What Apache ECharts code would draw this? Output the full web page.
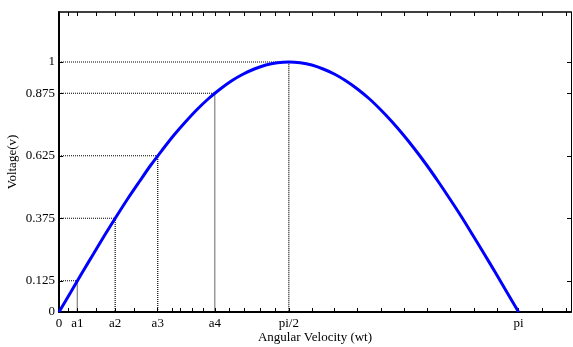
<!DOCTYPE html>
<html>
<head>
<meta charset="utf-8">
<script src="https://cdn.jsdelivr.net/npm/echarts@6/dist/echarts.min.js"></script>
<style>
  html, body { margin: 0; padding: 0; background: #fff; }
  #chart { width: 573px; height: 347px; }
</style>
</head>
<body>
<div id="chart"></div>
<script>
// curve samples
const curveX = [0, 0.079, 0.157, 0.236, 0.314, 0.393, 0.471, 0.550, 0.628, 0.707, 0.785,
  0.864, 0.942, 1.021, 1.100, 1.178, 1.257, 1.335, 1.414, 1.492, 1.571,
  1.649, 1.728, 1.806, 1.885, 1.963, 2.042, 2.121, 2.199, 2.278, 2.356,
  2.435, 2.513, 2.592, 2.670, 2.749, 2.827, 2.906, 2.985, 3.063, 3.142];
const curveY = [0, 0.078, 0.156, 0.233, 0.309, 0.383, 0.454, 0.522, 0.588, 0.649, 0.707,
  0.760, 0.809, 0.853, 0.891, 0.924, 0.951, 0.972, 0.988, 0.997, 1.0,
  0.997, 0.988, 0.972, 0.951, 0.924, 0.891, 0.853, 0.809, 0.760, 0.707,
  0.649, 0.588, 0.522, 0.454, 0.383, 0.309, 0.233, 0.156, 0.078, 0];

// dotted guide lines: level on y, where it meets the curve on x
const guideY = [0.125, 0.375, 0.625, 0.875, 1];
const guideX = [0.125, 0.384, 0.675, 1.065, 1.571];

// axis labels
const xLabelValues = [0, 0.125, 0.384, 0.675, 1.065, 1.571, 3.142];
const xLabelNames = ["0", "a1", "a2", "a3", "a4", "pi/2", "pi"];
const xMinorTicks = [0.062, 0.253, 0.512, 0.772, 0.826, 0.908, 0.984, 1.161, 1.263, 1.373, 1.475,
  1.728, 1.885, 2.042, 2.206, 2.363, 2.520, 2.677, 2.841, 2.998, 3.306, 3.469];
const yLabelValues = [0, 0.125, 0.375, 0.625, 0.875, 1];

const chart = echarts.init(document.getElementById("chart"), null, { renderer: "canvas" });

const font = "Liberation Serif";
const xTicks = xLabelValues.concat(xMinorTicks);

const guideSeries = guideY.map((y, i) => ({
  type: "line",
  silent: true,
  symbol: "none",
  z: 1,
  lineStyle: { color: "#000", width: 1.2, type: [1, 1] },
  data: [[0, y], [guideX[i], y], [guideX[i], 0]],
}));

chart.setOption({
  animation: false,
  backgroundColor: "#fff",
  textStyle: { fontFamily: font },
  grid: {
    left: 59,
    top: 12,
    width: 512,
    height: 300,
    containLabel: false,
    outerBoundsMode: "none",
  },
  xAxis: [
    {
      type: "value",
      min: 0,
      max: 3.5,
      name: "Angular Velocity (wt)",
      nameLocation: "middle",
      nameGap: 19,
      nameMoveOverlap: false,
      nameTextStyle: { color: "#000", fontSize: 13, fontFamily: font },
      axisLine: { onZero: false, lineStyle: { color: "#000", width: 2 } },
      axisTick: {
        inside: true,
        length: 4,
        customValues: xTicks,
        lineStyle: { color: "#000", width: 1 },
      },
      axisLabel: {
        color: "#000",
        fontSize: 13,
        fontFamily: font,
        margin: 5,
        customValues: xLabelValues,
        formatter: (v) => {
          const i = xLabelValues.indexOf(v);
          return i >= 0 ? xLabelNames[i] : "";
        },
      },
      splitLine: { show: false },
    },
    {
      type: "value",
      position: "top",
      min: 0,
      max: 3.5,
      axisLine: { onZero: false, lineStyle: { color: "#000", width: 1.5 } },
      axisTick: {
        inside: true,
        length: 4,
        customValues: xTicks,
        lineStyle: { color: "#000", width: 1 },
      },
      axisLabel: { show: false },
      splitLine: { show: false },
    },
  ],
  yAxis: [
    {
      type: "value",
      min: 0,
      max: 1.2,
      name: "Voltage(v)",
      nameLocation: "middle",
      nameGap: 40,
      nameMoveOverlap: false,
      nameTextStyle: { color: "#000", fontSize: 13, fontFamily: font },
      axisLine: { show: true, onZero: false, lineStyle: { color: "#000", width: 2 } },
      axisTick: {
        show: true,
        inside: true,
        length: 4,
        customValues: yLabelValues,
        lineStyle: { color: "#000", width: 1 },
      },
      axisLabel: {
        color: "#000",
        fontSize: 13,
        fontFamily: font,
        margin: 4,
        customValues: yLabelValues,
      },
      splitLine: { show: false },
    },
    {
      type: "value",
      position: "right",
      min: 0,
      max: 1.2,
      axisLine: { show: true, onZero: false, lineStyle: { color: "#000", width: 1 } },
      axisTick: {
        show: true,
        inside: true,
        length: 4,
        customValues: yLabelValues,
        lineStyle: { color: "#000", width: 1 },
      },
      axisLabel: { show: false },
      splitLine: { show: false },
    },
  ],
  series: guideSeries.concat([
    {
      type: "line",
      silent: true,
      symbol: "none",
      z: 3,
      smooth: 0.3,
      lineStyle: { color: "#0000ff", width: 3 },
      data: curveX.map((x, i) => [x, curveY[i]]),
    },
  ]),
});
</script>
</body>
</html>
